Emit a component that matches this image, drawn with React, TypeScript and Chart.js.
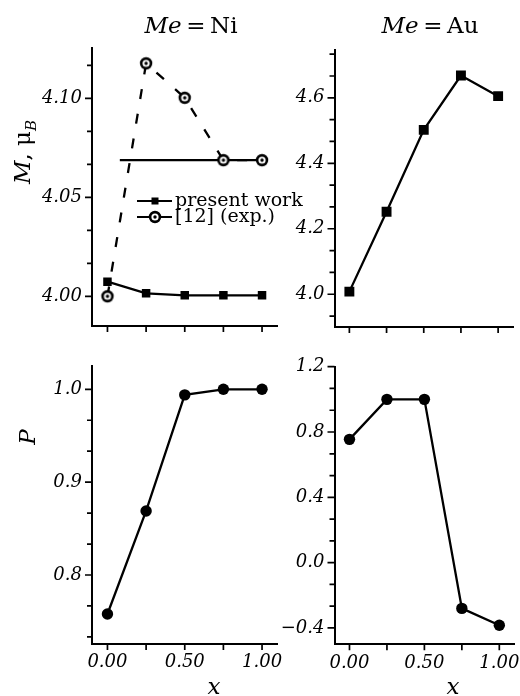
import React, { useEffect, useRef } from 'react';
import { Chart, registerables } from 'chart.js';

Chart.register(...registerables);

// ---------- data ----------
const xValues = [0, 0.25, 0.5, 0.75, 1.0];
const niPresentM = [4.0074, 4.0015, 4.0005, 4.0005, 4.0005];
const niExpM = [4.0, 4.1177, 4.1003, 4.0688, 4.0688];
const niRefX = [0.08, 1.0];
const niRefM = [4.0688, 4.0688];
const auM = [4.008, 4.252, 4.502, 4.668, 4.605];
const niP = [0.758, 0.869, 0.994, 1.0, 1.0];
const auP = [0.755, 1.0, 1.0, -0.28, -0.383];

const xLabelTicks = [0, 0.5, 1.0];
const xAllTicks = [0, 0.25, 0.5, 0.75, 1.0];
const niMTicks = [4.0, 4.05, 4.1];
const auMTicks = [4.0, 4.2, 4.4, 4.6];
const niPTicks = [0.8, 0.9, 1.0];
const auPTicks = [-0.4, 0.0, 0.4, 0.8, 1.2];
const legendLabels = ['present work', '[12] (exp.)'];

// ---------- layout ----------
const W = 520;
const H = 696;
const Y_W = 70;
const X_H = 40;
const FONT = '"DejaVu Serif", serif';

function makeRing(): HTMLCanvasElement {
  const c = document.createElement('canvas');
  c.width = 16;
  c.height = 16;
  const g = c.getContext('2d')!;
  g.beginPath();
  g.arc(8, 8, 4.9, 0, Math.PI * 2);
  g.fillStyle = '#fff';
  g.fill();
  g.lineWidth = 2.6;
  g.strokeStyle = '#000';
  g.stroke();
  g.beginPath();
  g.arc(8, 8, 1.7, 0, Math.PI * 2);
  g.fillStyle = '#000';
  g.fill();
  return c;
}

const pts = (xs: number[], ys: number[]) => xs.map((x, i) => ({ x, y: ys[i] }));

type PanelCfg = {
  area: { left: number; top: number; right: number; bottom: number };
  yMin: number;
  yMax: number;
  yTicks: number[];
  yDecimals: number;
  showXLabels: boolean;
  datasets: any[];
  legend?: boolean;
};

function tickMarksPlugin(yTicks: number[]) {
  return {
    id: 'tickMarks',
    afterDraw(chart: any) {
      const { ctx, chartArea, scales } = chart;
      const xs = scales.x;
      const ys = scales.y;
      ctx.save();
      ctx.strokeStyle = '#000';
      ctx.lineWidth = 1.7;
      ctx.beginPath();
      for (const v of xAllTicks) {
        const px = xs.getPixelForValue(v);
        ctx.moveTo(px, chartArea.bottom);
        ctx.lineTo(px, chartArea.bottom + 6);
      }
      const step = (yTicks[1] - yTicks[0]) / 3;
      const n = (yTicks.length - 1) * 3;
      for (let k = -6; k <= n + 6; k++) {
        const v = yTicks[0] + k * step;
        if (v < ys.min - 1e-9 || v > ys.max + 1e-9) continue;
        const len = k % 3 === 0 ? 7 : 5;
        const py = ys.getPixelForValue(v);
        ctx.moveTo(chartArea.left - len, py);
        ctx.lineTo(chartArea.left, py);
      }
      ctx.stroke();
      ctx.restore();
    },
  };
}

function legendPlugin(ring: HTMLCanvasElement) {
  return {
    id: 'customLegend',
    afterDraw(chart: any) {
      const ctx = chart.ctx;
      const rows = [
        { y: 201, kind: 'square', label: legendLabels[0] },
        { y: 217, kind: 'ring', label: legendLabels[1] },
      ];
      ctx.save();
      ctx.strokeStyle = '#000';
      ctx.fillStyle = '#000';
      ctx.lineWidth = 2.2;
      ctx.font = `19px ${FONT}`;
      ctx.textBaseline = 'alphabetic';
      for (const r of rows) {
        ctx.beginPath();
        ctx.moveTo(137, r.y);
        ctx.lineTo(172, r.y);
        ctx.stroke();
        if (r.kind === 'square') {
          ctx.fillRect(155 - 3.5, r.y - 3.5, 7, 7);
        } else {
          ctx.drawImage(ring, 155 - 8, r.y - 8);
        }
        ctx.fillStyle = '#000';
        ctx.fillText(r.label, 175, r.y + 5);
      }
      ctx.restore();
    },
  };
}

function Panel({ cfg, ring }: { cfg: PanelCfg; ring: HTMLCanvasElement }) {
  const ref = useRef<HTMLCanvasElement>(null);
  useEffect(() => {
    const tickFont = { family: FONT, style: 'italic' as const, size: 18 };
    const plugins: any[] = [tickMarksPlugin(cfg.yTicks)];
    if (cfg.legend) plugins.push(legendPlugin(ring));
    const chart = new Chart(ref.current!, {
      type: 'line',
      data: { datasets: cfg.datasets },
      options: {
        responsive: false,
        animation: false,
        devicePixelRatio: 1,
        events: [],
        layout: {
          padding: {
            left: cfg.area.left - Y_W,
            top: cfg.area.top,
            right: W - cfg.area.right,
            bottom: H - cfg.area.bottom - X_H,
          },
        },
        plugins: {
          legend: { display: false },
          tooltip: { enabled: false },
          title: { display: false },
        },
        scales: {
          x: {
            type: 'linear',
            min: -0.1,
            max: 1.1,
            afterBuildTicks: (s: any) => {
              s.ticks = xLabelTicks.map((v) => ({ value: v }));
            },
            afterFit: (s: any) => {
              s.height = X_H;
              s.paddingLeft = 0;
              s.paddingRight = 0;
            },
            grid: { display: false, drawTicks: false },
            border: { display: true, color: '#000', width: 2 },
            ticks: {
              display: cfg.showXLabels,
              padding: 8,
              autoSkip: false,
              minRotation: 0,
              maxRotation: 0,
              color: '#000',
              font: tickFont,
              callback: (v: any) => Number(v).toFixed(2),
            },
          },
          y: {
            type: 'linear',
            min: cfg.yMin,
            max: cfg.yMax,
            afterBuildTicks: (s: any) => {
              s.ticks = cfg.yTicks.map((v) => ({ value: v }));
            },
            afterFit: (s: any) => {
              s.width = Y_W;
              s.paddingTop = 0;
              s.paddingBottom = 0;
            },
            grid: { display: false, drawTicks: false },
            border: { display: true, color: '#000', width: 2 },
            ticks: {
              padding: 10,
              autoSkip: false,
              color: '#000',
              font: tickFont,
              callback: (v: any) => {
                const s = Number(v).toFixed(cfg.yDecimals);
                return s.startsWith('-') ? '\u2212' + s.slice(1) : s;
              },
            },
          },
        },
      } as any,
      plugins,
    });
    return () => chart.destroy();
  }, []);
  return (
    <canvas
      ref={ref}
      width={W}
      height={H}
      style={{ position: 'absolute', left: 0, top: 0, width: W, height: H }}
    />
  );
}

function Label({ cx, cy, size, rotate, children }: any) {
  return (
    <div
      style={{
        position: 'absolute',
        left: cx,
        top: cy,
        transform: `translate(-50%, -50%)${rotate ? ' rotate(-90deg)' : ''}`,
        whiteSpace: 'nowrap',
        fontFamily: FONT,
        fontSize: size,
        lineHeight: 1,
        color: '#000',
      }}
    >
      {children}
    </div>
  );
}

export default function App() {
  const ring = React.useMemo(() => makeRing(), []);

  const lineBase = {
    borderColor: '#000',
    borderWidth: 2.3,
    pointBackgroundColor: '#000',
    pointBorderColor: '#000',
    pointBorderWidth: 0,
    tension: 0,
    fill: false,
  };

  const panels: PanelCfg[] = [
    {
      area: { left: 92, top: 48.3, right: 277.5, bottom: 326 },
      yMin: 3.985,
      yMax: 4.1253,
      yTicks: niMTicks,
      yDecimals: 2,
      showXLabels: false,
      legend: true,
      datasets: [
        { ...lineBase, label: legendLabels[0], data: pts(xValues, niPresentM), pointStyle: 'rect', pointRadius: 6 },
        { ...lineBase, label: legendLabels[1], data: pts(xValues, niExpM), borderDash: [10, 15], pointStyle: ring, pointRadius: 8 },
        { ...lineBase, label: 'ref', data: pts(niRefX, niRefM), pointRadius: 0 },
      ],
    },
    {
      area: { left: 334.5, top: 50, right: 520, bottom: 327 },
      yMin: 3.9,
      yMax: 4.746,
      yTicks: auMTicks,
      yDecimals: 1,
      showXLabels: false,
      datasets: [
        { ...lineBase, label: 'Au M', data: pts(xValues, auM), pointStyle: 'rect', pointRadius: 7 },
      ],
    },
    {
      area: { left: 92, top: 366, right: 277.5, bottom: 644 },
      yMin: 0.7257,
      yMax: 1.0251,
      yTicks: niPTicks,
      yDecimals: 1,
      showXLabels: true,
      datasets: [
        { ...lineBase, label: 'Ni P', data: pts(xValues, niP), pointStyle: 'circle', pointRadius: 5.7 },
      ],
    },
    {
      area: { left: 334.5, top: 366.7, right: 520, bottom: 644.3 },
      yMin: -0.5,
      yMax: 1.2,
      yTicks: auPTicks,
      yDecimals: 1,
      showXLabels: true,
      datasets: [
        { ...lineBase, label: 'Au P', data: pts(xValues, auP), pointStyle: 'circle', pointRadius: 5.7 },
      ],
    },
  ];

  return (
    <div style={{ position: 'absolute', left: 0, top: 0, width: W, height: H, overflow: 'hidden', background: '#fff' }}>
      {panels.map((p, i) => (
        <Panel key={i} cfg={p} ring={ring} />
      ))}
      <Label cx={191} cy={25} size={23}>
        <i>Me</i>{'\u2009=\u2009'}Ni
      </Label>
      <Label cx={430} cy={25} size={23}>
        <i>Me</i>{'\u2009=\u2009'}Au
      </Label>
      <Label cx={25} cy={152} size={23} rotate>
        <i>M</i>, μ<sub style={{ fontSize: 15 }}><i>B</i></sub>
      </Label>
      <Label cx={27} cy={437} size={23} rotate>
        <i>P</i>
      </Label>
      <Label cx={214} cy={686} size={23}>
        <i>x</i>
      </Label>
      <Label cx={453} cy={686} size={23}>
        <i>x</i>
      </Label>
    </div>
  );
}
